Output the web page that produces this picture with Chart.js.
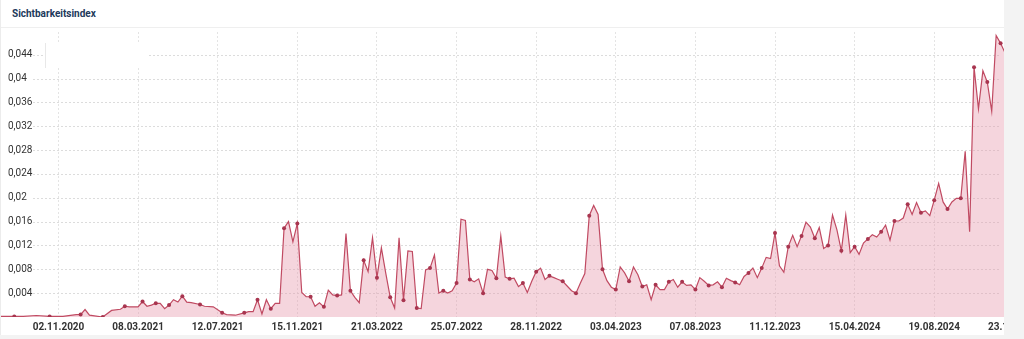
<!DOCTYPE html>
<html>
<head>
<meta charset="utf-8">
<script src="https://cdn.jsdelivr.net/npm/chart.js@4.4.1/dist/chart.umd.min.js"></script>
<style>
  html, body { margin: 0; padding: 0; background: #f3f3f3; }
  #card { position: absolute; left: 0; top: 0; width: 1004px; height: 335px; background: #fff; overflow: hidden; border-left: 1px solid #ececec; box-sizing: border-box; }
  #title { position: absolute; left: 11px; top: 8px; font: bold 10px Roboto, sans-serif; color: #22395b; }
  #sep { position: absolute; left: 0; top: 27px; width: 1004px; height: 1px; background: #efefef; }
  #wrap { position: absolute; left: 0; top: 0; width: 1004px; height: 337px; }
  #box { position: absolute; left: 44px; top: 43px; width: 101px; height: 25px; background: #fff; border-left: 1px solid #e8e8e8; }
</style>
</head>
<body>
<div id="card">
  <div id="title">Sichtbarkeitsindex</div>
  <div id="sep"></div>
  <div id="wrap"><canvas id="sichtChart"></canvas></div>
  <div id="box"></div>
</div>
<script>
// Wochen seit dem 03.08.2020
const startDate = '03.08.2020';
const weeks = [
  0, 3, 5, 8, 11, 14, 17, 18, 19, 20,
  23, 25, 27, 28, 29, 31, 32, 33, 34, 35,
  36, 37, 38, 39, 40, 41, 42, 43, 45, 46,
  48, 50, 51, 53, 55, 56, 57, 58, 59, 60,
  61, 62, 63, 64, 65, 66, 67, 68, 69, 70,
  71, 72, 73, 74, 75, 76, 77, 78, 79, 80,
  81, 82, 83, 84, 85, 86, 87, 88, 89, 90,
  91, 92, 93, 94, 95, 96, 97, 98, 99, 100,
  101, 102, 103, 104, 105, 106, 107, 108, 109, 110,
  111, 112, 113, 114, 115, 116, 117, 118, 119, 120,
  121, 122, 123, 124, 125, 126, 127, 128, 129, 130,
  131, 132, 133, 134, 135, 136, 137, 138, 139, 140,
  141, 142, 143, 144, 145, 146, 147, 148, 149, 150,
  151, 152, 153, 154, 155, 156, 157, 158, 159, 160,
  161, 162, 163, 164, 165, 166, 167, 168, 169, 170,
  171, 172, 173, 174, 175, 176, 177, 178, 179, 180,
  181, 182, 183, 184, 185, 186, 187, 188, 189, 190,
  191, 192, 193, 194, 195, 196, 197, 198, 199, 200,
  201, 202, 203, 204, 205, 206, 207, 208, 209, 210,
  211, 212, 213, 214, 215, 216, 217, 218, 219, 220,
  221, 222, 223, 224, 225, 226, 227
];
const sichtbarkeit = [
  0.0001, 0.0001, 0.0001, 0.00025, 0.0001, 0.0001, 0.0004, 0.0004, 0.00125, 0.0003,
  0.0000, 0.0011, 0.0013, 0.0018, 0.0017, 0.0017, 0.0026, 0.0018, 0.0020, 0.0023,
  0.0023, 0.0014, 0.0020, 0.0029, 0.0025, 0.0035, 0.0025, 0.0024, 0.0021, 0.0018,
  0.0017, 0.0007, 0.0004, 0.0003, 0.0007, 0.0009, 0.0009, 0.0029, 0.0005, 0.0029,
  0.0014, 0.0023, 0.0023, 0.0149, 0.0160, 0.0126, 0.0157, 0.0041, 0.0034, 0.0034,
  0.0018, 0.0024, 0.0017, 0.0045, 0.0037, 0.0036, 0.0037, 0.0140, 0.0044, 0.0033,
  0.0024, 0.0095, 0.0076, 0.0133, 0.0066, 0.0116, 0.0073, 0.0033, 0.0015, 0.0133,
  0.0028, 0.0111, 0.0110, 0.0015, 0.0014, 0.0079, 0.0082, 0.0104, 0.0040, 0.0044,
  0.0040, 0.0044, 0.0057, 0.0164, 0.0162, 0.0063, 0.0059, 0.0064, 0.0040, 0.0080,
  0.0078, 0.0065, 0.0136, 0.0067, 0.0064, 0.0065, 0.0051, 0.0057, 0.0041, 0.0060,
  0.0076, 0.0082, 0.0063, 0.0069, 0.0066, 0.0063, 0.0060, 0.0052, 0.0044, 0.0040,
  0.0057, 0.0073, 0.0170, 0.0187, 0.0172, 0.0080, 0.0061, 0.0050, 0.0046, 0.0084,
  0.0074, 0.0060, 0.0084, 0.0071, 0.0051, 0.0054, 0.0029, 0.0054, 0.0046, 0.0046,
  0.0059, 0.0063, 0.0050, 0.0059, 0.0053, 0.0054, 0.0046, 0.0066, 0.0060, 0.0053,
  0.0054, 0.0059, 0.0050, 0.0065, 0.0061, 0.0058, 0.0054, 0.0068, 0.0074, 0.0082,
  0.0066, 0.0082, 0.0100, 0.0098, 0.0141, 0.0086, 0.0075, 0.0118, 0.0137, 0.0118,
  0.0136, 0.0159, 0.0151, 0.0132, 0.0150, 0.0115, 0.0120, 0.0171, 0.0146, 0.0111,
  0.0171, 0.0108, 0.0118, 0.0105, 0.0124, 0.0131, 0.0138, 0.0134, 0.0143, 0.0154,
  0.0129, 0.0161, 0.0161, 0.0166, 0.0189, 0.0172, 0.0192, 0.0175, 0.0178, 0.0170,
  0.0196, 0.0224, 0.0193, 0.0181, 0.0193, 0.0199, 0.0199, 0.0278, 0.0143, 0.0419,
  0.0349, 0.0413, 0.0394, 0.0345, 0.0472, 0.0459, 0.0443
];
const xTickLabels = ['02.11.2020', '08.03.2021', '12.07.2021', '15.11.2021', '21.03.2022', '25.07.2022',
  '28.11.2022', '03.04.2023', '07.08.2023', '11.12.2023', '15.04.2024', '19.08.2024', '23.12.2024'];
const yTicks = [0.004, 0.008, 0.012, 0.016, 0.02, 0.024, 0.028, 0.032, 0.036, 0.04, 0.044];

function parseDate(s) {
  const [d, m, y] = s.split('.').map(Number);
  return Date.UTC(y, m - 1, d);
}
function weekOf(s) {
  return Math.round((parseDate(s) - parseDate(startDate)) / (7 * 86400000));
}
const tickWeeks = xTickLabels.map(weekOf);

// horizontale Linien erst ab x=32, wie im Original
const yGrid = {
  id: 'yGrid',
  beforeDatasetsDraw(chart) {
    const { ctx, chartArea, scales: { y } } = chart;
    ctx.save();
    ctx.strokeStyle = '#dcdcdc';
    ctx.lineWidth = 1;
    ctx.setLineDash([2, 2]);
    y.ticks.forEach(t => {
      const py = Math.round(y.getPixelForValue(t.value)) + 0.5;
      ctx.beginPath();
      ctx.moveTo(32, py);
      ctx.lineTo(chartArea.right - 5, py);
      ctx.stroke();
    });
    ctx.restore();
  }
};

const ctx = document.getElementById('sichtChart').getContext('2d');
new Chart(ctx, {
  type: 'line',
  data: {
    datasets: [{
      label: 'Sichtbarkeitsindex',
      data: weeks.map((w, i) => ({ x: w, y: sichtbarkeit[i] })),
      borderColor: '#c04a62',
      backgroundColor: 'rgba(230, 150, 170, 0.4)',
      borderWidth: 1.2,
      fill: 'origin',
      tension: 0,
      pointRadius: c => (c.index % 3 === 1 ? 2 : 0),
      pointBackgroundColor: '#a8354f',
      pointBorderWidth: 0
    }]
  },
  options: {
    responsive: true,
    maintainAspectRatio: false,
    animation: false,
    layout: { padding: { top: 32, left: 0, right: 0, bottom: 0 } },
    plugins: { legend: { display: false }, tooltip: { enabled: false } },
    scales: {
      x: {
        type: 'linear',
        min: 0,
        max: 227,
        bounds: 'data',
        afterBuildTicks: s => { s.ticks = tickWeeks.map(v => ({ value: v })); },
        afterFit: s => { s.paddingLeft = 0; s.paddingRight = 0; },
        ticks: {
          autoSkip: false,
          maxRotation: 0,
          padding: 4,
          color: '#333',
          font: { family: 'Roboto', size: 10, weight: 'bold' },
          callback: (v, i) => xTickLabels[i]
        },
        grid: { color: '#e4e4e4', drawTicks: false },
        border: { display: false, dash: [2, 2] }
      },
      y: {
        min: 0,
        max: 0.0478,
        bounds: 'data',
        afterBuildTicks: s => { s.ticks = yTicks.map(v => ({ value: v })); },
        afterFit: s => { s.width = 0; s.paddingTop = 0; s.paddingBottom = 0; },
        ticks: {
          mirror: true,
          padding: 7,
          color: '#333',
          font: { family: 'Roboto', size: 10 },
          callback: v => String(v).replace('.', ',')
        },
        grid: { display: false },
        border: { display: false }
      }
    }
  },
  plugins: [yGrid]
});
</script>
</body>
</html>
